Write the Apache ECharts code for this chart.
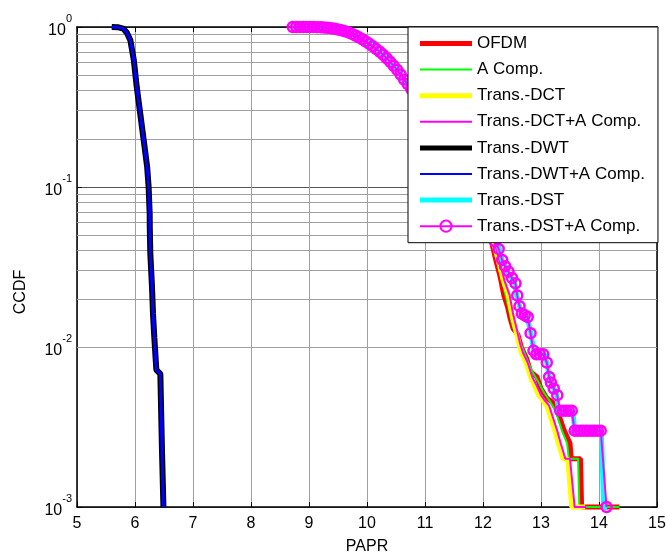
<!DOCTYPE html>
<html>
<head>
<meta charset="utf-8">
<script src="https://cdn.jsdelivr.net/npm/echarts@6/dist/echarts.min.js"></script>
<style>
  html, body { margin: 0; padding: 0; background: #fff; }
  #chart { width: 666px; height: 554px; }
</style>
</head>
<body>
<div id="chart"></div>
<script>
const seriesNames = ['OFDM', 'A Comp.', 'Trans.-DCT', 'Trans.-DCT+A Comp.', 'Trans.-DWT', 'Trans.-DWT+A Comp.', 'Trans.-DST', 'Trans.-DST+A Comp.']

// shared upper part of the CCDF curves (they overlap above ~0.05)
const upperCurve = [
  [8.72, 1.0], [8.78, 1.0], [8.84, 1.0], [8.90, 1.0], [8.96, 1.0], [9.02, 1.0], [9.08, 0.999], [9.14, 0.998],
  [9.20, 0.996], [9.26, 0.993], [9.32, 0.989], [9.38, 0.983], [9.44, 0.975], [9.50, 0.965], [9.56, 0.953],
  [9.62, 0.94], [9.68, 0.925], [9.74, 0.905], [9.80, 0.885], [9.86, 0.862], [9.92, 0.838], [9.98, 0.812],
  [10.04, 0.785], [10.10, 0.757], [10.16, 0.728], [10.22, 0.70], [10.28, 0.67], [10.34, 0.638], [10.40, 0.605],
  [10.46, 0.572], [10.52, 0.54], [10.58, 0.505], [10.64, 0.47], [10.70, 0.44], [10.76, 0.41], [10.82, 0.38],
  [10.9, 0.345], [11.0, 0.30], [11.1, 0.26], [11.2, 0.225], [11.3, 0.195], [11.4, 0.165], [11.5, 0.14],
  [11.6, 0.12], [11.7, 0.10], [11.8, 0.086], [11.9, 0.073], [12.0, 0.062], [12.1, 0.052]
]

const ofdmTail = [
  [12.15, 0.045], [12.22, 0.035], [12.30, 0.027], [12.36, 0.021], [12.42, 0.018], [12.47, 0.015], [12.52, 0.013],
  [12.60, 0.012], [12.66, 0.010], [12.75, 0.0085], [12.82, 0.007], [12.93, 0.0065], [13.0, 0.0055], [13.1, 0.0048],
  [13.2, 0.0045], [13.28, 0.004], [13.4, 0.003], [13.5, 0.0025], [13.52, 0.002], [13.68, 0.002], [13.70, 0.001],
  [14.35, 0.001]
]
const aCompTail = [
  [12.17, 0.045], [12.25, 0.034], [12.33, 0.026], [12.39, 0.021], [12.45, 0.017], [12.50, 0.014], [12.56, 0.012],
  [12.62, 0.011], [12.70, 0.0095], [12.78, 0.008], [12.87, 0.0068], [12.96, 0.006], [13.05, 0.0052], [13.15, 0.0046],
  [13.25, 0.004], [13.36, 0.003], [13.45, 0.0025], [13.48, 0.002], [13.64, 0.002], [13.66, 0.001], [14.35, 0.001]
]
const dctTail = [
  [12.18, 0.045], [12.27, 0.034], [12.35, 0.026], [12.44, 0.021], [12.50, 0.016], [12.56, 0.013], [12.62, 0.0105],
  [12.66, 0.0092], [12.74, 0.008], [12.82, 0.0065], [12.88, 0.0058], [12.96, 0.005], [13.04, 0.0046], [13.10, 0.0043],
  [13.18, 0.0035], [13.24, 0.003], [13.30, 0.0025], [13.38, 0.002], [13.46, 0.002], [13.53, 0.001], [13.76, 0.001]
]
const dctATail = [
  [12.20, 0.045], [12.29, 0.034], [12.37, 0.026], [12.46, 0.021], [12.52, 0.016], [12.58, 0.013], [12.64, 0.0105],
  [12.69, 0.0092], [12.77, 0.008], [12.85, 0.0065], [12.92, 0.0058], [13.0, 0.005], [13.07, 0.0046], [13.14, 0.0043],
  [13.22, 0.0035], [13.28, 0.003], [13.34, 0.0025], [13.42, 0.002], [13.50, 0.002], [13.58, 0.001], [13.78, 0.001]
]
const dstTail = [
  [12.25, 0.045], [12.33, 0.035], [12.42, 0.0296], [12.55, 0.025], [12.58, 0.021], [12.66, 0.0165], [12.76, 0.0154],
  [12.82, 0.0125], [12.88, 0.0093], [13.06, 0.009], [13.10, 0.008], [13.15, 0.0062], [13.27, 0.0051], [13.30, 0.004],
  [13.55, 0.004], [13.58, 0.003], [14.04, 0.003], [14.08, 0.001], [14.14, 0.001]
]
const dstATail = [
  [12.2, 0.046], [12.27, 0.041], [12.33, 0.035], [12.38, 0.032], [12.44, 0.0296], [12.50, 0.027], [12.56, 0.025],
  [12.59, 0.021], [12.63, 0.018], [12.67, 0.0162], [12.72, 0.0158], [12.77, 0.0154], [12.82, 0.0122], [12.87, 0.0095],
  [12.92, 0.009], [12.98, 0.009], [13.04, 0.009], [13.10, 0.008], [13.14, 0.0065], [13.17, 0.006], [13.22, 0.0055],
  [13.28, 0.005], [13.33, 0.004], [13.38, 0.004], [13.43, 0.004], [13.48, 0.004], [13.53, 0.004], [13.58, 0.003],
  [13.63, 0.003], [13.68, 0.003], [13.73, 0.003], [13.78, 0.003], [13.83, 0.003], [13.88, 0.003], [13.93, 0.003],
  [13.98, 0.003], [14.03, 0.003], [14.13, 0.001]
]

const dwtCurve = [
  [5.60, 1.0], [5.70, 0.998], [5.80, 0.977], [5.86, 0.92], [5.92, 0.826], [5.98, 0.62], [6.03, 0.422],
  [6.09, 0.288], [6.15, 0.196], [6.21, 0.133], [6.235, 0.100], [6.253, 0.068], [6.255, 0.055], [6.264, 0.0385],
  [6.293, 0.0238], [6.31, 0.0162], [6.333, 0.0115], [6.368, 0.0072], [6.437, 0.0068], [6.448, 0.0044],
  [6.466, 0.0022], [6.49, 0.001]
]

// minor log grid lines
const minorGrid = [0.002, 0.003, 0.004, 0.005, 0.006, 0.007, 0.008, 0.009,
  0.02, 0.03, 0.04, 0.05, 0.06, 0.07, 0.08, 0.09,
  0.2, 0.3, 0.4, 0.5, 0.6, 0.7, 0.8, 0.9]

const seriesData = [
  upperCurve.concat(ofdmTail),
  upperCurve.concat(aCompTail),
  upperCurve.concat(dctTail),
  upperCurve.concat(dctATail),
  dwtCurve,
  dwtCurve,
  upperCurve.concat(dstTail),
  upperCurve.concat(dstATail)
]

const colors = ['#ff0000', '#00ff00', '#ffff00', '#ff00ff', '#000000', '#0000ff', '#00ffff', '#ff00ff']
const widths = [5, 2, 5, 2, 6, 3, 5, 2]
const font = 'Liberation Sans, Arial, sans-serif'

const chart = echarts.init(document.getElementById('chart'))

const series = [{
  name: 'grid',
  type: 'line',
  data: [[5, 0.001]],
  symbol: 'none',
  silent: true,
  z: 1,
  markLine: {
    silent: true,
    symbol: 'none',
    z: 1,
    label: { show: false },
    lineStyle: { color: '#a0a0a0', width: 1, type: 'solid' },
    emphasis: { disabled: true },
    data: minorGrid.map(v => ({ yAxis: v }))
  }
}]

seriesNames.forEach((name, i) => {
  const isCircle = i === 7
  series.push({
    name,
    type: 'line',
    data: seriesData[i],
    clip: false,
    symbol: isCircle ? 'circle' : 'none',
    symbolSize: 10,
    showSymbol: isCircle,
    itemStyle: isCircle
      ? { color: 'transparent', borderColor: colors[i], borderWidth: 2.5 }
      : { color: colors[i] },
    lineStyle: { color: colors[i], width: widths[i] },
    emphasis: { disabled: true }
  })
})

const option = {
  animation: false,
  backgroundColor: '#fff',
  textStyle: { fontFamily: font },
  grid: { left: 77, top: 27, width: 580, height: 480, containLabel: false, outerBoundsMode: 'none' },
  legend: {
    orient: 'vertical',
    left: 408,
    top: 27,
    z: 20,
    backgroundColor: '#fff',
    borderColor: '#000',
    borderWidth: 1,
    borderRadius: 0,
    padding: [8, 13, 8, 11],
    itemWidth: 52,
    itemHeight: 14,
    itemGap: 9.1,
    selectedMode: false,
    textStyle: { fontSize: 17, color: '#000', fontFamily: font },
    data: seriesNames.map((name, i) => i === 7
      ? { name }
      : { name, icon: widths[i] >= 5 ? 'path://M0,0H52V5H0Z' : 'path://M0,0H52V2H0Z' })
  },
  xAxis: [{
    type: 'value',
    min: 5,
    max: 15,
    interval: 1,
    name: 'PAPR',
    nameLocation: 'middle',
    nameGap: 32,
    nameTextStyle: { fontSize: 16, color: '#000', fontFamily: font },
    axisLine: { lineStyle: { color: '#000', width: 1.5 } },
    axisTick: { inside: true, length: 5, lineStyle: { color: '#000' } },
    axisLabel: { fontSize: 16, color: '#000', margin: 9, fontFamily: font },
    splitLine: { show: true, lineStyle: { color: '#a0a0a0', width: 1 } }
  }, {
    type: 'value',
    position: 'top',
    min: 5,
    max: 15,
    interval: 1,
    axisLine: { lineStyle: { color: '#000', width: 1.5 } },
    axisTick: { inside: true, length: 5, lineStyle: { color: '#000' } },
    axisLabel: { show: false },
    splitLine: { show: false }
  }],
  yAxis: [{
    type: 'log',
    logBase: 10,
    min: 0.001,
    max: 1,
    name: 'CCDF',
    nameLocation: 'middle',
    nameGap: 48,
    nameTextStyle: { fontSize: 16, color: '#000', fontFamily: font, padding: [0, 50, 0, 0] },
    axisLine: { lineStyle: { color: '#000', width: 1.5 } },
    axisTick: { inside: true, length: 5, lineStyle: { color: '#000' } },
    axisLabel: {
      color: '#000',
      margin: 5,
      fontFamily: font,
      formatter: v => '{b|10}{s|' + Math.round(Math.log10(v)) + '}',
      rich: {
        b: { fontSize: 16, color: '#000', fontFamily: font, padding: [8, 0, 0, 0] },
        s: { fontSize: 11, color: '#000', fontFamily: font, padding: [0, 0, 17, 0] }
      }
    },
    splitLine: { show: true, lineStyle: { color: '#555', width: 1 } }
  }, {
    type: 'log',
    logBase: 10,
    position: 'right',
    min: 0.001,
    max: 1,
    axisLine: { show: true, lineStyle: { color: '#000', width: 1.5 } },
    axisTick: { inside: true, length: 5, lineStyle: { color: '#000' } },
    axisLabel: { show: false },
    splitLine: { show: false }
  }],
  series
}

chart.setOption(option)
</script>
</body>
</html>
